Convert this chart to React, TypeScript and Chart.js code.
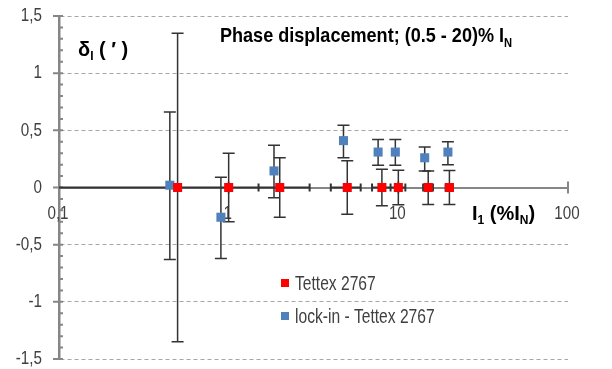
import React, { useEffect, useRef } from 'react';
import { Chart, registerables } from 'chart.js';

Chart.register(...registerables);

// ---- data ----
const REF_LABEL = 'Tettex 2767';
const REF_CURRENT = [0.5, 1, 2, 5, 8, 10, 15, 20]; // I1 (%IN)
const REF_DELTA = [0, 0, 0, 0, 0, 0, 0, 0]; // minutes
const REF_ERR_UP = [1.35, 0.3, 0.26, 0.235, 0.16, 0.15, 0.145, 0.148];
const REF_ERR_DOWN = [1.35, 0.3, 0.26, 0.235, 0.16, 0.15, 0.148, 0.148];
const REF_XERR = [1, 1, 1, 1, 1, 1, 1, 1]; // absolute, %IN

const LOCKIN_LABEL = 'lock-in - Tettex 2767';
const LOCKIN_CURRENT = [0.45, 0.9, 1.85, 4.75, 7.6, 9.6, 14.3, 19.6];
const LOCKIN_DELTA = [0.02, -0.26, 0.145, 0.41, 0.31, 0.31, 0.26, 0.31];
const LOCKIN_ERR_UP = [0.64, 0.35, 0.225, 0.135, 0.11, 0.11, 0.095, 0.09];
const LOCKIN_ERR_DOWN = [0.65, 0.36, 0.235, 0.15, 0.115, 0.115, 0.115, 0.11];

const X_TICKS = [0.1, 1, 10, 100];
const Y_TICKS = [-1.5, -1, -0.5, 0, 0.5, 1, 1.5];
const Y_MINOR_STEP = 0.1;

const TITLE = 'Phase displacement; (0.5 - 20)% I';
const TITLE_SUB = 'N';

// ---- style ----
const RED = '#ff0000';
const BLUE = '#4f81bd';
const AXIS = '#868686';
const GRID = '#a6a6a6';
const BAR = '#333333';
const TEXT = '#404040';
const FONT = "'Liberation Sans', Arial, sans-serif";

const fmt = (v: number) => String(v).replace('.', ',');

function drawText(
  ctx: CanvasRenderingContext2D,
  t: string,
  x: number,
  y: number,
  size: number,
  weight: string,
  color: string,
  align: CanvasTextAlign,
  baseline: CanvasTextBaseline,
  sx: number
) {
  ctx.save();
  ctx.translate(x, y);
  ctx.scale(sx, 1);
  ctx.font = `${weight} ${size}px ${FONT}`;
  ctx.fillStyle = color;
  ctx.textAlign = align;
  ctx.textBaseline = baseline;
  ctx.fillText(t, 0, 0);
  ctx.restore();
}

type Part = { t: string; sub?: boolean };
function drawRich(ctx: CanvasRenderingContext2D, x: number, y: number, parts: Part[], size: number, weight: string, color: string, sx: number) {
  let cx = x;
  for (const p of parts) {
    const s = p.sub ? Math.round(size * 0.62) : size;
    drawText(ctx, p.t, cx, p.sub ? y + size * 0.22 : y, s, weight, color, 'left', 'alphabetic', sx);
    ctx.save();
    ctx.font = `${weight} ${s}px ${FONT}`;
    cx += ctx.measureText(p.t).width * sx;
    ctx.restore();
  }
}

const decorPlugin = {
  id: 'decor',
  beforeDatasetsDraw(chart: any) {
    const { ctx, chartArea, scales } = chart;
    const xs = scales.x;
    const ys = scales.y;
    ctx.save();
    // axis tick marks (Excel style)
    ctx.strokeStyle = AXIS;
    ctx.lineWidth = 2;
    const ax = chartArea.left;
    const y0 = ys.getPixelForValue(0);
    ctx.beginPath();
    for (const v of Y_TICKS) {
      const py = ys.getPixelForValue(v);
      ctx.moveTo(ax - 6, py);
      ctx.lineTo(ax + 4, py);
    }
    const nMinor = Math.round((ys.max - ys.min) / Y_MINOR_STEP);
    for (let k = 0; k <= nMinor; k++) {
      const py = ys.getPixelForValue(ys.min + k * Y_MINOR_STEP);
      ctx.moveTo(ax, py);
      ctx.lineTo(ax + 4, py);
    }
    for (const v of X_TICKS) {
      const px = xs.getPixelForValue(v);
      ctx.moveTo(px, y0 - 6);
      ctx.lineTo(px, y0 + 6);
    }
    ctx.stroke();

    // tick labels
    for (const v of Y_TICKS) {
      drawText(ctx, fmt(v), 42, ys.getPixelForValue(v), 19, 'normal', TEXT, 'right', 'middle', 0.8);
    }
    for (const v of X_TICKS) {
      drawText(ctx, fmt(v), xs.getPixelForValue(v) - 1, y0 + 26, 19, 'normal', TEXT, 'center', 'middle', 0.8);
    }

    // horizontal error bars of reference
    ctx.strokeStyle = BAR;
    ctx.lineWidth = 2;
    ctx.beginPath();
    REF_CURRENT.forEach((xv, i) => {
      const py = ys.getPixelForValue(REF_DELTA[i]);
      const lo = xv - REF_XERR[i];
      const hi = xv + REF_XERR[i];
      const pl = lo > xs.min ? xs.getPixelForValue(lo) : chartArea.left;
      const pr = xs.getPixelForValue(hi);
      ctx.moveTo(pl, py);
      ctx.lineTo(pr, py);
      if (lo > xs.min) {
        ctx.moveTo(pl, py - 4);
        ctx.lineTo(pl, py + 4);
      }
      ctx.moveTo(pr, py - 4);
      ctx.lineTo(pr, py + 4);
    });
    ctx.stroke();

    // vertical error bars
    const vbars = (xsArr: number[], yArr: number[], up: number[], down: number[]) => {
      ctx.beginPath();
      xsArr.forEach((xv, i) => {
        const px = xs.getPixelForValue(xv);
        const pt = ys.getPixelForValue(yArr[i] + up[i]);
        const pb = ys.getPixelForValue(yArr[i] - down[i]);
        ctx.moveTo(px, pt);
        ctx.lineTo(px, pb);
        ctx.moveTo(px - 6, pt);
        ctx.lineTo(px + 6, pt);
        ctx.moveTo(px - 6, pb);
        ctx.lineTo(px + 6, pb);
      });
      ctx.stroke();
    };
    ctx.lineWidth = 1.5;
    ctx.strokeStyle = BAR;
    vbars(LOCKIN_CURRENT, LOCKIN_DELTA, LOCKIN_ERR_UP, LOCKIN_ERR_DOWN);
    vbars(REF_CURRENT, REF_DELTA, REF_ERR_UP, REF_ERR_DOWN);
    ctx.restore();
  },
  afterDraw(chart: any) {
    const { ctx } = chart;
    ctx.save();
    // title
    drawRich(ctx, 220, 42, [{ t: TITLE }, { t: TITLE_SUB, sub: true }], 21, 'bold', '#000', 0.86);
    // y axis title
    drawRich(ctx, 78, 56, [{ t: 'δ' }, { t: 'I', sub: true }, { t: ' ( ′ )' }], 20, 'bold', '#000', 1);
    // x axis title
    drawRich(ctx, 472, 220, [{ t: 'I' }, { t: '1', sub: true }, { t: ' (%I' }, { t: 'N', sub: true }, { t: ')' }], 20, 'bold', '#000', 1);
    // legend
    const items = chart.data.datasets;
    const baselines = [290, 323];
    items.forEach((ds: any, i: number) => {
      ctx.fillStyle = ds.backgroundColor;
      ctx.fillRect(281, baselines[i] - 11, 8, 8);
      drawText(ctx, ds.label, 295, baselines[i], 20, 'normal', TEXT, 'left', 'alphabetic', 0.78);
    });
    ctx.restore();
  },
};

export default function App() {
  const ref = useRef<HTMLCanvasElement>(null);
  useEffect(() => {
    const chart = new Chart(ref.current as HTMLCanvasElement, {
      type: 'scatter',
      data: {
        datasets: [
          {
            label: REF_LABEL,
            data: REF_CURRENT.map((x, i) => ({ x, y: REF_DELTA[i] })),
            backgroundColor: RED,
            borderColor: RED,
            pointStyle: 'rect',
            pointRadius: 6.4,
            pointBorderWidth: 0,
            order: 1,
          },
          {
            label: LOCKIN_LABEL,
            data: LOCKIN_CURRENT.map((x, i) => ({ x, y: LOCKIN_DELTA[i] })),
            backgroundColor: BLUE,
            borderColor: BLUE,
            pointStyle: 'rect',
            pointRadius: 6.4,
            pointBorderWidth: 0,
            order: 2,
          },
        ],
      },
      options: {
        animation: false,
        responsive: false,
        events: [],
        layout: { padding: { top: 16, right: 44, bottom: 10, left: 0 } },
        plugins: { legend: { display: false }, tooltip: { enabled: false } },
        scales: {
          x: {
            type: 'logarithmic',
            min: 0.1,
            max: 100,
            position: { y: 0 } as any,
            afterBuildTicks: (s: any) => {
              s.ticks = X_TICKS.map((v) => ({ value: v }));
            },
            afterFit: (s: any) => {
              s.height = 0;
            },
            grid: { display: true, drawOnChartArea: false, drawTicks: false },
            border: { display: true, color: AXIS, width: 2 },
            ticks: { display: false },
          },
          y: {
            type: 'linear',
            min: -1.5,
            max: 1.5,
            afterBuildTicks: (s: any) => {
              s.ticks = Y_TICKS.map((v) => ({ value: v }));
            },
            afterFit: (s: any) => {
              s.width = 59;
            },
            grid: {
              drawTicks: false,
              lineWidth: 1,
              color: (c: any) => (c.tick && c.tick.value === 0 ? 'rgba(0,0,0,0)' : GRID),
            },
            border: { display: true, color: AXIS, width: 2.5, dash: [4, 3] },
            ticks: { display: false },
          },
        },
      },
      plugins: [decorPlugin],
    } as any);
    return () => chart.destroy();
  }, []);
  return (
    <div style={{ position: 'absolute', left: 0, top: 0, width: 612, height: 369, background: '#fff' }}>
      <canvas ref={ref} width={612} height={369} style={{ display: 'block', width: 612, height: 369 }} />
    </div>
  );
}
